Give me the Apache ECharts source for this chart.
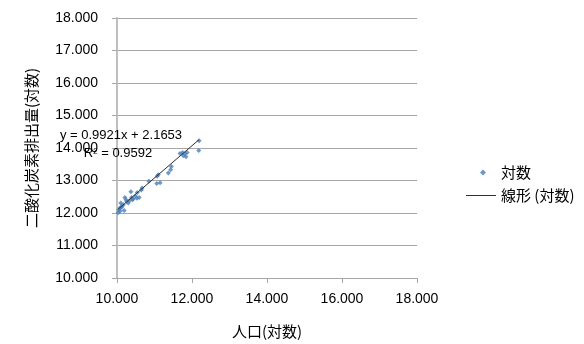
<!DOCTYPE html>
<html><head><meta charset="utf-8">
<script src="https://cdn.jsdelivr.net/npm/echarts@6/dist/echarts.min.js"></script>
<style>html,body{margin:0;padding:0;background:#fff}#c{width:584px;height:344px}</style>
</head><body><div id="c"></div>
<script>
var seriesName = '対数';
var trendName = '線形 (対数)';
var xAxisName = '人口(対数)';
var yAxisName = '二酸化炭素排出量(対数)';
var popLog = [12.19,12.18,11.68,11.75,11.81,11.87,11.77,11.84,11.45,11.43,11.37,11.10,11.07,11.15,11.06,10.85,10.67,10.65,10.54,10.59,10.53,10.37,10.39,10.41,10.33,10.43,10.21,10.24,10.30,10.17,10.10,10.13,10.08,10.19,10.08,10.03,10.05,10.12,10.26,10.49];
var co2Log = [14.22,13.92,13.83,13.86,13.82,13.86,13.76,13.73,13.43,13.33,13.23,13.18,13.13,12.93,12.91,12.98,12.77,12.71,12.63,12.48,12.45,12.65,12.48,12.41,12.38,12.43,12.48,12.41,12.31,12.25,12.31,12.21,12.15,12.08,12.05,12.01,12.10,12.18,12.35,12.52];
var slope = 0.9921;
var intercept = 2.1653;
var r2 = 0.9592;
var eqText = 'y = ' + slope.toFixed(4) + 'x + ' + intercept.toFixed(4);
var r2Text = 'R² = ' + r2.toFixed(4);

var pts = popLog.map(function(x,i){return [x, co2Log[i]];});
var xmin = Math.min.apply(null, popLog), xmax = Math.max.apply(null, popLog);
var trend = [[xmin, slope*xmin+intercept],[xmax, slope*xmax+intercept]];

var numFont = 'Liberation Sans';
var cjk = '"Noto Sans CJK JP"';
var chart = echarts.init(document.getElementById('c'));
chart.setOption({
  animation:false,
  backgroundColor:'#fff',
  grid:{left:117,right:167,top:18,bottom:60},
  xAxis:{type:'value',min:10,max:18,interval:2,
    name:xAxisName,nameLocation:'middle',nameGap:46,
    nameTextStyle:{fontFamily:cjk,fontSize:15,color:'#000'},
    axisLine:{show:true,lineStyle:{color:'#A6A6A6',width:1}},
    axisTick:{show:true,length:5,lineStyle:{color:'#A6A6A6'}},
    axisLabel:{margin:14,fontFamily:numFont,fontSize:14,color:'#000',formatter:function(v){return v.toFixed(3);}},
    splitLine:{show:false}},
  yAxis:{type:'value',min:10,max:18,interval:1,
    name:yAxisName,nameLocation:'middle',nameGap:78,nameRotate:90,
    nameTextStyle:{fontFamily:cjk,fontSize:15,color:'#000'},
    axisLine:{show:true,lineStyle:{color:'#BFBFBF',width:2}},
    axisTick:{show:true,length:5,lineStyle:{color:'#A6A6A6'}},
    axisLabel:{margin:19,fontFamily:numFont,fontSize:14,color:'#000',formatter:function(v){return v.toFixed(3);}},
    splitLine:{show:true,lineStyle:{color:'#A6A6A6',width:1}}},
  legend:[
    {data:[{name:seriesName,icon:'diamond'}],orient:'vertical',left:480,top:165,padding:0,itemWidth:6,itemHeight:6,
     textStyle:{fontFamily:cjk,fontSize:15,color:'#000',padding:[0,0,0,10]}},
    {data:[{name:trendName,icon:'rect'}],orient:'vertical',left:466,top:188,padding:0,itemWidth:30,itemHeight:1,
     textStyle:{fontFamily:cjk,fontSize:15,color:'#000'}}
  ],
  graphic:[
    {type:'text',x:121,y:135,style:{text:eqText,fill:'#000',font:'13px "Liberation Sans"',align:'center',verticalAlign:'middle'},z:100},
    {type:'text',x:118,y:153,style:{text:r2Text,fill:'#000',font:'13px "Liberation Sans"',align:'center',verticalAlign:'middle'},z:100}
  ],
  series:[
    {name:seriesName,type:'scatter',data:pts,symbol:'diamond',symbolSize:5,itemStyle:{color:'#4A7EBB'}},
    {name:trendName,type:'line',data:trend,symbol:'none',lineStyle:{color:'#303030',width:1},itemStyle:{color:'#303030'}}
  ]
});
</script></body></html>
